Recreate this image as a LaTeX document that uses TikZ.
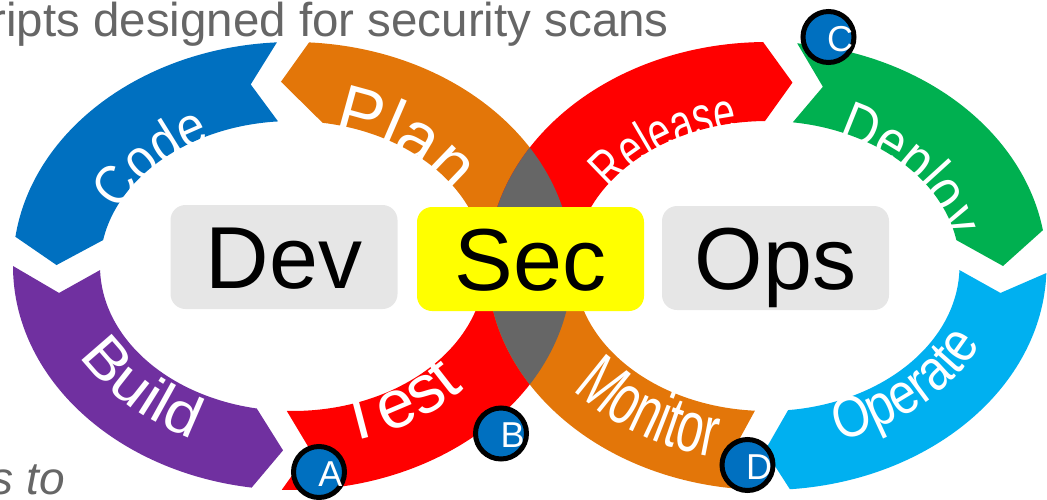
\documentclass[tikz,border=0pt]{standalone}
\usepackage{fontspec}
\setmainfont{Liberation Sans}
% narrowed and widened cuts for the arched stage names
\newfontfamily\stA[FakeStretch=0.88]{Liberation Sans}
\newfontfamily\stB[FakeStretch=0.97]{Liberation Sans}
\newfontfamily\stC[FakeStretch=1.1]{Liberation Sans}
\newfontfamily\stD[FakeStretch=0.7]{Liberation Sans}
\newfontfamily\stE[FakeStretch=0.86]{Liberation Sans}
\newfontfamily\stF[FakeStretch=0.66]{Liberation Sans}
\newfontfamily\stG[FakeStretch=0.84]{Liberation Sans}
\usetikzlibrary{decorations.text}

\definecolor{cblue}{HTML}{0070C0}
\definecolor{corange}{HTML}{E37609}
\definecolor{cred}{HTML}{FF0000}
\definecolor{cgreen}{HTML}{00B050}
\definecolor{ccyan}{HTML}{00B0F0}
\definecolor{cpurple}{HTML}{7030A0}
\definecolor{clens}{HTML}{666666}
\definecolor{boxgray}{HTML}{E6E6E6}
\definecolor{secyellow}{HTML}{FFFF00}
\definecolor{ctxt}{HTML}{666666}

\newcommand\fsz[1]{\fontsize{#1}{#1}\selectfont}

% ring radii: outer, middle (arrow tips) and inner ellipse
\def\Rox{279.5}\def\Roy{224}
\def\Rmx{236}\def\Rmy{184.5}
\def\Rix{192.5}\def\Riy{145}

% one arrow segment of a ring:
% #1,#2 centre; #3 colour; #4 outer start angle; #5 outer end angle;
% #6 point at the end (middle ellipse); #7 inner end angle; #8 inner start angle;
% #9 point at the start (middle ellipse)
\newcommand\ringseg[9]{%
  \fill[#3, shift={(#1,#2)}]
    (#4:\Rox\space and \Roy) arc[start angle=#4, end angle=#5, x radius=\Rox, y radius=\Roy]
    -- (#6:\Rmx\space and \Rmy)
    -- (#7:\Rix\space and \Riy) arc[start angle=#7, end angle=#8, x radius=\Rix, y radius=\Riy]
    -- (#9:\Rmx\space and \Rmy) -- cycle;}

% arched name: #1 text, #2 start angle, #3 end angle, #4 x radius, #5 y radius
\newcommand\archname[5]{%
  \path[ringtext={#1}] (#2:#4 and #5) arc[start angle=#2, end angle=#3, x radius=#4, y radius=#5];}

\begin{document}
\begin{tikzpicture}[x=1pt, y=1pt,
  ringtext/.style={decorate, decoration={text along path, text={#1},
      text align=center, text color=white}},
  tag/.style={rounded corners=15pt, inner sep=0pt, text height=63pt, text depth=0pt,
      font=\fsz{88}, minimum height=104pt, minimum width=227pt},
  badge/.style={circle, fill=cblue, draw=black, line width=5pt, minimum size=51pt, inner sep=0pt},
  badgetxt/.style={text=white, font=\fsz{36}, inner sep=0pt, anchor=base},
  note/.style={text=ctxt, inner sep=0pt, anchor=base east}]

\useasboundingbox (0,0) rectangle (1047,-499);

% left loop
\ringseg{292.5}{-266}{cblue}{93.2}{172.5}{179.7}{169.7}{94.3}{100.2}
\ringseg{292.5}{-266}{corange}{86.6}{0}{0}{0}{81}{92.8}
\ringseg{292.5}{-266}{cpurple}{180}{261.6}{267.7}{259.3}{181.6}{188.4}
\ringseg{292.5}{-266}{cred}{267.8}{360}{360}{360}{268.3}{274.3}

% right loop
\ringseg{767}{-266}{cred}{180}{90.8}{83.8}{90.6}{180}{180}
\ringseg{767}{-266}{cgreen}{83.8}{9.2}{0}{10.3}{82.3}{76.3}
\ringseg{767}{-266}{ccyan}{-1.8}{-85.3}{-90.5}{-83.7}{-1.6}{-8.4}
\ringseg{767}{-266}{corange}{-92.5}{-180}{-180}{-180}{-93.6}{-98}

% crossing of the two loops
\begin{scope}
  \clip (292.5,-266) ellipse[x radius=\Rox, y radius=\Roy];
  \fill[clens] (767,-266) ellipse[x radius=\Rox, y radius=\Roy];
\end{scope}

% stage names along the loops
\begin{scope}[shift={(292.5,-266)}]
  \archname{|\stA\fsz{56}|Code}{196}{86}{186}{140}
  \archname{|\stB\fsz{70}|Plan}{105}{-5}{184}{138}
  \archname{|\stC\fsz{58}|Build}{168}{278}{242}{190}
  \archname{|\fsz{68}|Test}{249}{359}{233}{182}
\end{scope}
\begin{scope}[shift={(767,-266)}]
  \archname{|\stD\fsz{56}|Release}{182}{72}{184}{138}
  \archname{|\stE\fsz{58}|Deploy}{91}{-19}{184}{138}
  \archname{|\stF\fsz{72}|Monitor}{180}{290}{250}{196}
  \archname{|\stG\fsz{58}|Operate}{260}{370}{236}{184}
\end{scope}

% centre tags
\node[tag, fill=boxgray] (dev) at (284,-257) {Dev};
\node[tag, fill=secyellow] (sec) at (530.5,-259) {Sec};
\node[tag, fill=boxgray] (ops) at (775.5,-258) {Ops};

% markers
\node[badge] (ma) at (319,-472) {};
\node[badge] (mb) at (501,-433.5) {};
\node[badge] (mc) at (828.5,-37) {};
\node[badge] (md) at (747.5,-465) {};
\node[badgetxt] (la) at ([shift={(11.5,-14)}]ma.center) {A};
\node[badgetxt] (lb) at ([shift={(11.5,-14)}]mb.center) {B};
\node[badgetxt] (lc) at ([shift={(11.5,-14)}]mc.center) {C};
\node[badgetxt] (ld) at ([shift={(11.5,-14)}]md.center) {D};

% surrounding text
\node[note, font=\fsz{47.5}] (title) at (669,-36.5) {ripts designed for security scans};
\node[note, font=\fsz{46}\itshape] (foot) at (65,-494) {s to};

\end{tikzpicture}
\end{document}
